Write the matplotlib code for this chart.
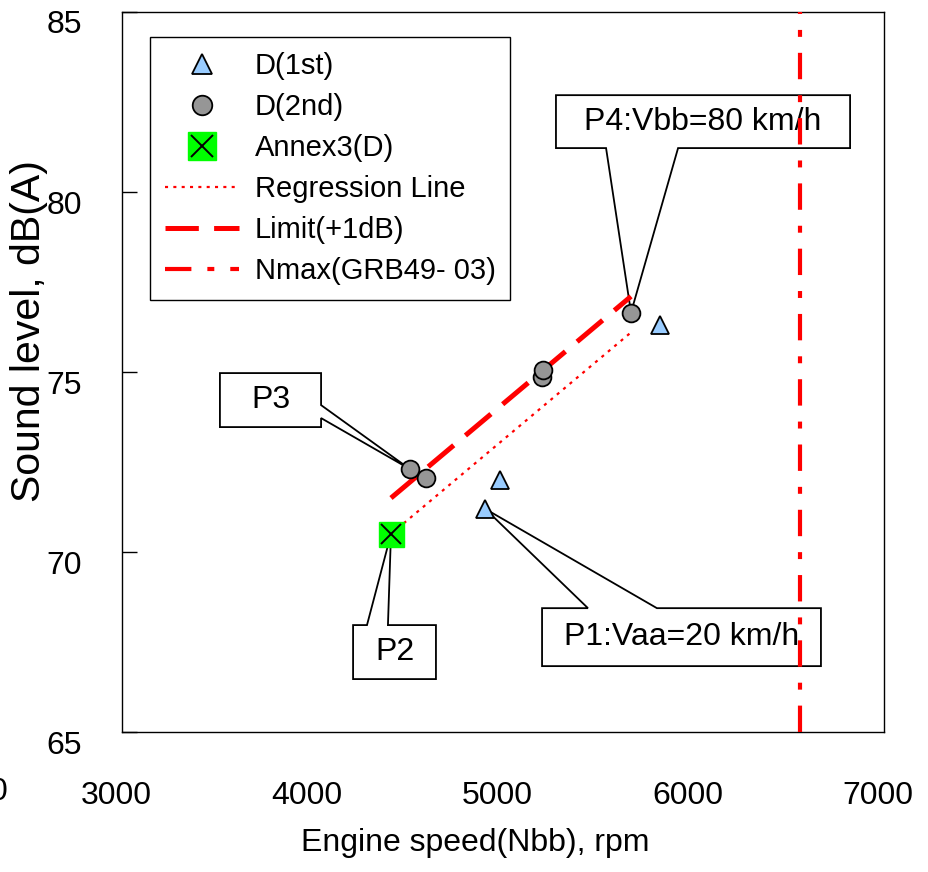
import numpy as np
import matplotlib.pyplot as plt
import matplotlib.transforms as mtransforms
from matplotlib.patches import Polygon

plt.rcParams['font.family'] = ['Liberation Sans', 'DejaVu Sans']
plt.rcParams['lines.scale_dashes'] = False

# measured points
d1_x = [4906, 4984, 5824]
d1_y = [71.2, 72.0, 76.3]
d2_x = [4512, 4596, 5205, 5210, 5672]
d2_y = [72.3, 72.05, 74.85, 75.05, 76.65]
annex_x = [4412]
annex_y = [70.5]

# regression line and the +1 dB limit
reg_x = [4412, 5672]
reg_y = [70.5, 76.1]
limit_y = [v + 1.0 for v in reg_y]
nmax = 6560

x_ticks = [3000, 4000, 5000, 6000, 7000]
y_ticks = [65, 70, 75, 80, 85]

RED = '#ff0000'

fig = plt.figure(figsize=(9.29, 8.72), dpi=100)
ax = fig.add_axes([122 / 929, 1 - 732 / 872, 762 / 929, 720 / 872])
ax.set_xlim(3000, 7000)
ax.set_ylim(65, 85)


def callout(ax, box, side, base, tip, text):
    # box = (x0, y0, x1, y1); the pointer leaves the box on one side
    x0, y0, x1, y1 = box
    b0, b1 = base
    if side == 'bottom':
        pts = [(x0, y0), (b0, y0), tip, (b1, y0), (x1, y0), (x1, y1), (x0, y1)]
    elif side == 'top':
        pts = [(x0, y0), (x1, y0), (x1, y1), (b1, y1), tip, (b0, y1), (x0, y1)]
    else:  # right
        pts = [(x0, y0), (x1, y0), (x1, b0), tip, (x1, b1), (x1, y1), (x0, y1)]
    ax.add_patch(Polygon(pts, closed=True, facecolor='white', edgecolor='black',
                         linewidth=1.3, zorder=2, clip_on=False))
    ax.text((x0 + x1) / 2, (y0 + y1) / 2, text, ha='center', va='center',
            fontsize=23, zorder=2.5)


callout(ax, (5278, 81.22, 6822, 82.69), 'bottom', (5541, 5919), (d2_x[4], d2_y[4]),
        'P4:Vbb=80 km/h')
callout(ax, (3514, 73.47, 4045, 74.97), 'right', (73.72, 74.08), (d2_x[0], d2_y[0]), 'P3')
callout(ax, (4213, 66.47, 4648, 67.97), 'top', (4286, 4396), (annex_x[0], annex_y[0]), 'P2')
callout(ax, (5205, 66.83, 6669, 68.44), 'top', (5446, 5808), (d1_x[0], d1_y[0]),
        'P1:Vaa=20 km/h')

l_reg, = ax.plot(reg_x, reg_y, color=RED, lw=1.6, dashes=(2.2, 3.8),
                 solid_capstyle='butt', zorder=3, label='Regression Line')
l_lim, = ax.plot(reg_x, limit_y, color=RED, lw=3.6, dashes=(24, 11),
                 zorder=3, label='Limit(+1dB)')
l_nmax = ax.axvline(nmax, color=RED, lw=3, dashes=(19, 11.5, 5, 11.5),
                    zorder=4, label='Nmax(GRB49- 03)')

h_d1, = ax.plot(d1_x, d1_y, ls='none', marker='^', ms=13.5, mfc='#99ccff',
                mec='black', mew=1.3, zorder=5, label='D(1st)')
h_d2, = ax.plot(d2_x, d2_y, ls='none', marker='o', ms=12.8, mfc='#969696',
                mec='black', mew=1.3, zorder=5, label='D(2nd)')
h_sq, = ax.plot(annex_x, annex_y, ls='none', marker='s', ms=18, mfc='#00ff00',
                mec='#00ff00', zorder=5)
h_x, = ax.plot(annex_x, annex_y, ls='none', marker='x', ms=15, mec='black',
               mew=1.4, zorder=6)

leg = ax.legend([h_d1, h_d2, (h_sq, h_x), l_reg, l_lim, l_nmax],
                ['D(1st)', 'D(2nd)', 'Annex3(D)', 'Regression Line', 'Limit(+1dB)',
                 'Nmax(GRB49- 03)'],
                loc='upper left', bbox_to_anchor=(0.0367, 0.965), borderaxespad=0,
                fontsize=21, frameon=True, fancybox=False, framealpha=1,
                edgecolor='black', handlelength=2.55, handletextpad=0.55,
                borderpad=0.5, labelspacing=0.45, markerscale=1.1)
leg.get_frame().set_linewidth(1.0)

for s in ax.spines.values():
    s.set_linewidth(1.0)
ax.set_xticks(x_ticks)
ax.set_yticks(y_ticks)
ax.tick_params(axis='y', direction='in', length=11, width=1, labelsize=23, pad=28.8)
ax.tick_params(axis='x', length=0, labelsize=23, pad=35)

# tick labels sit a bit off their ticks
for lab in ax.get_yticklabels():
    lab.set_transform(lab.get_transform() +
                      mtransforms.ScaledTranslation(0, -0.1, fig.dpi_scale_trans))
for lab in ax.get_xticklabels():
    lab.set_transform(lab.get_transform() +
                      mtransforms.ScaledTranslation(-0.06, 0, fig.dpi_scale_trans))

ax.set_xlabel('Engine speed(Nbb), rpm', fontsize=23)
ax.xaxis.set_label_coords((475 - 122) / 762, -(843 - 732) / 720)
ax.xaxis.label.set_va('center')
ax.set_ylabel('Sound level, dB(A)', fontsize=29.5)
ax.yaxis.set_label_coords(-(122 - 29) / 762, 1 - (332 - 13) / 720)
ax.yaxis.label.set_va('center')

fig.text(8 / 929, 1 - 792 / 872, '0', fontsize=23, ha='right', va='center')

fig.savefig('out.png', dpi=100)
